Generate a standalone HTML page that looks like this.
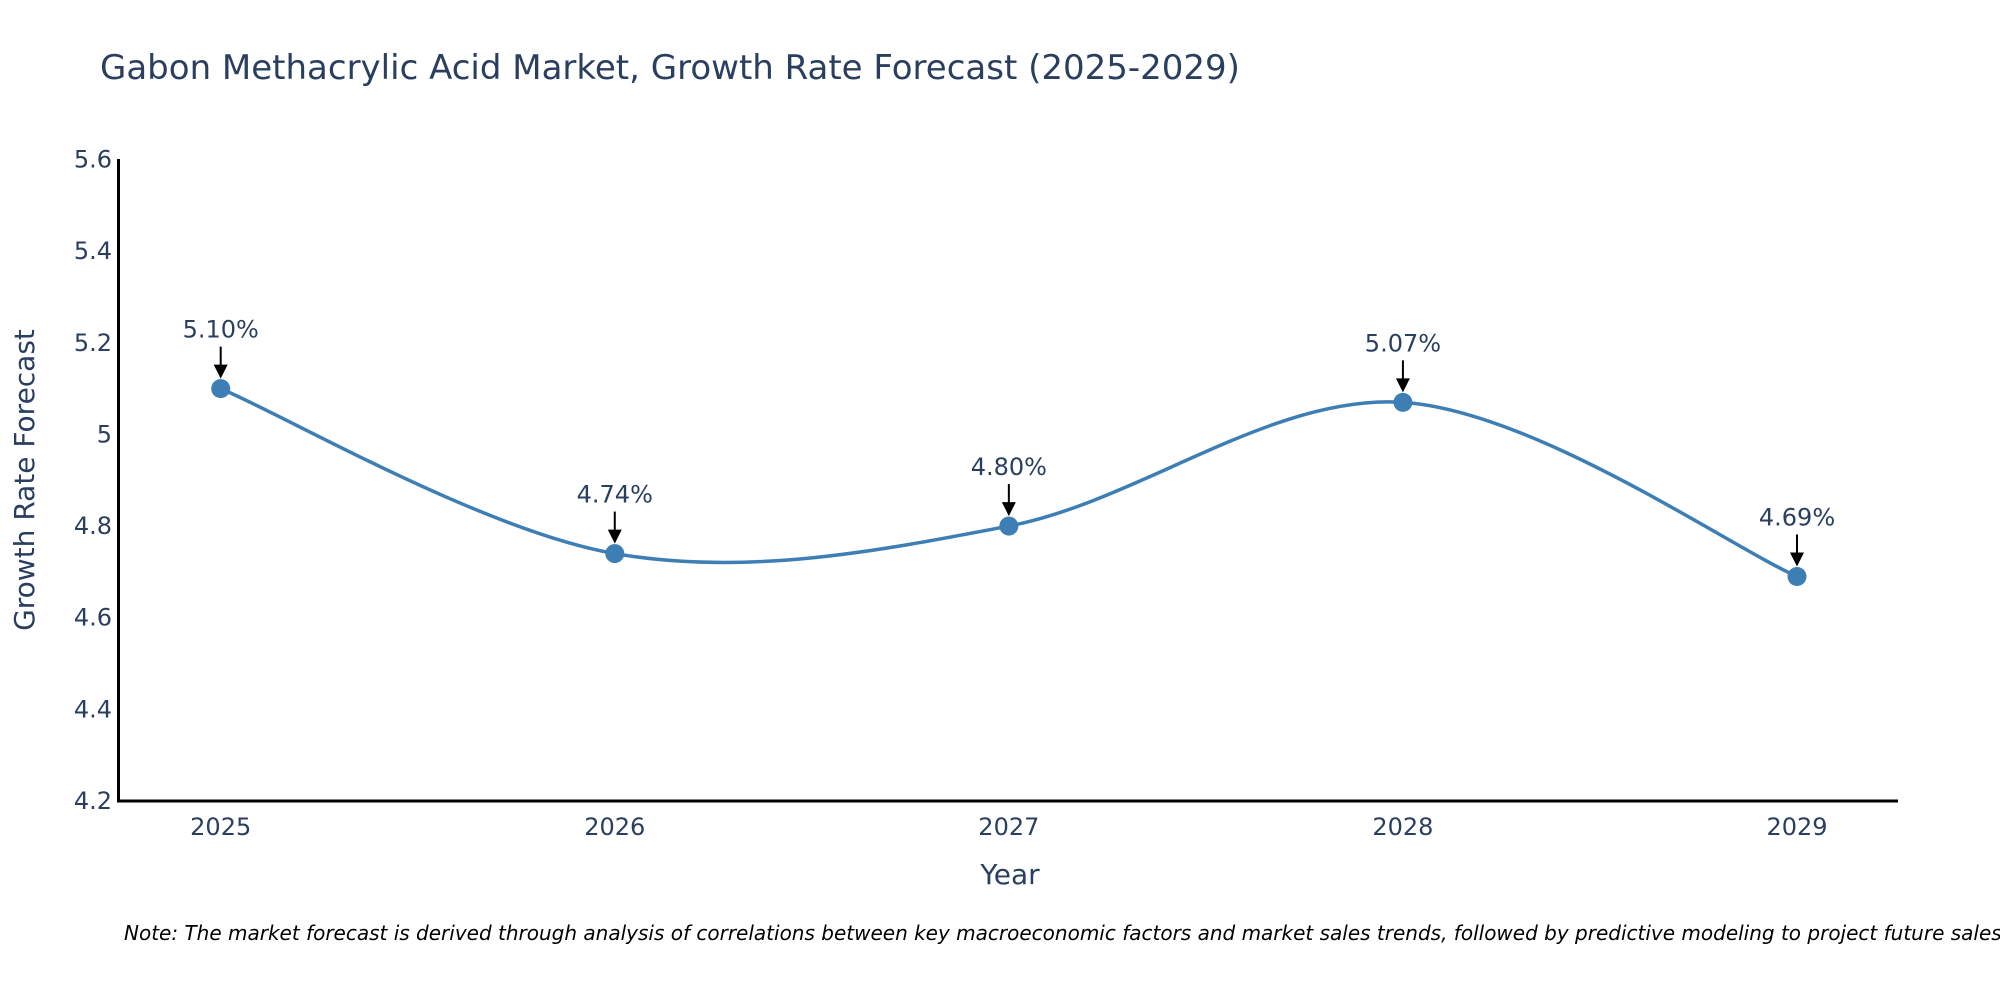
<!DOCTYPE html>
<html><head><meta charset="utf-8"><style>
html,body{margin:0;padding:0;background:#fff;}
svg text{font-family:"DejaVu Sans","Liberation Sans",sans-serif;}
</style></head><body>
<svg id="chart" width="2000" height="1000" xmlns="http://www.w3.org/2000/svg">
<rect width="2000" height="1000" fill="#fff"/>
<text x="100" y="79" font-size="34" fill="#2a3f5f">Gabon Methacrylic Acid Market, Growth Rate Forecast (2025-2029)</text>
<g id="yticks"></g>
<g id="xticks"></g>
<line x1="118.5" y1="159" x2="118.5" y2="802" stroke="#000" stroke-width="3"/>
<line x1="117" y1="801" x2="1898" y2="801" stroke="#000" stroke-width="3"/>
<text transform="translate(34,480) rotate(-90)" text-anchor="middle" font-size="28" fill="#2a3f5f">Growth Rate Forecast</text>
<text x="1010" y="884" text-anchor="middle" font-size="28" fill="#2a3f5f">Year</text>
<g id="series"></g>
<g id="annots"></g>
<text x="124" y="940" font-size="20" font-style="italic" fill="#000">Note: The market forecast is derived through analysis of correlations between key macroeconomic factors and market sales trends, followed by predictive modeling to project future sales.</text>
</svg>
<script>
const categories = [2025, 2026, 2027, 2028, 2029];
const values = [5.10, 4.74, 4.80, 5.07, 4.69];
const labels = ["5.10%", "4.74%", "4.80%", "5.07%", "4.69%"];
const yTicks = [4.2, 4.4, 4.6, 4.8, 5, 5.2, 5.4, 5.6];
const yTickLabels = ["4.2", "4.4", "4.6", "4.8", "5", "5.2", "5.4", "5.6"];

const NS = "http://www.w3.org/2000/svg";
const yMin = 4.2, yMax = 5.6, pyTop = 159.5, pyBot = 801;
const x0 = 220.7, x1 = 1797;
function yScale(v){ return pyBot - (v - yMin) / (yMax - yMin) * (pyBot - pyTop); }
function xScale(i){ return x0 + i * (x1 - x0) / (categories.length - 1); }
function mk(tag, attrs, parent){ const e = document.createElementNS(NS, tag); for (const k in attrs) e.setAttribute(k, attrs[k]); parent.appendChild(e); return e; }

const yt = document.getElementById('yticks');
yTicks.forEach((t, i) => {
  const e = mk('text', {x: 112, y: yScale(t) + 8, 'text-anchor': 'end', 'font-size': 24, fill: '#2a3f5f'}, yt);
  e.textContent = yTickLabels[i];
  
  
});
const xt = document.getElementById('xticks');
categories.forEach((c, i) => {
  const e = mk('text', {x: xScale(i), y: 835, 'text-anchor': 'middle', 'font-size': 24, fill: '#2a3f5f'}, xt);
  e.textContent = c;
  
  
});

const pts = values.map((v, i) => [xScale(i), yScale(v)]);
let d = 'M' + pts[0][0] + ',' + pts[0][1];
for (let i = 0; i < pts.length - 1; i++) {
  const p0 = pts[Math.max(0, i - 1)], p1 = pts[i], p2 = pts[i + 1], p3 = pts[Math.min(pts.length - 1, i + 2)];
  const c1 = [p1[0] + (p2[0] - p0[0]) / 6, p1[1] + (p2[1] - p0[1]) / 6];
  const c2 = [p2[0] - (p3[0] - p1[0]) / 6, p2[1] - (p3[1] - p1[1]) / 6];
  d += ' C' + c1.join(',') + ' ' + c2.join(',') + ' ' + p2.join(',');
}
const s = document.getElementById('series');
const line = mk('path', {d: d, fill: 'none', stroke: '#3d7fb5', 'stroke-width': 3.5}, s);


pts.forEach((p, i) => {
  const c = mk('circle', {cx: p[0], cy: p[1], r: 9.5, fill: '#3d7fb5'}, s);
  
  
});
const a = document.getElementById('annots');
pts.forEach((p, i) => {
  const ln = mk('line', {x1: p[0], y1: p[1] - 42, x2: p[0], y2: p[1] - 22, stroke: '#000', 'stroke-width': 2}, a);
  
  
  const hd = mk('path', {d: `M${p[0]-7},${p[1]-24} L${p[0]+7},${p[1]-24} L${p[0]},${p[1]-10} Z`, fill: '#000'}, a);
  
  
  const t = mk('text', {x: p[0], y: p[1] - 51, 'text-anchor': 'middle', 'font-size': 24, fill: '#2a3f5f'}, a);
  t.textContent = labels[i];
  
  
});
</script>
</body></html>
